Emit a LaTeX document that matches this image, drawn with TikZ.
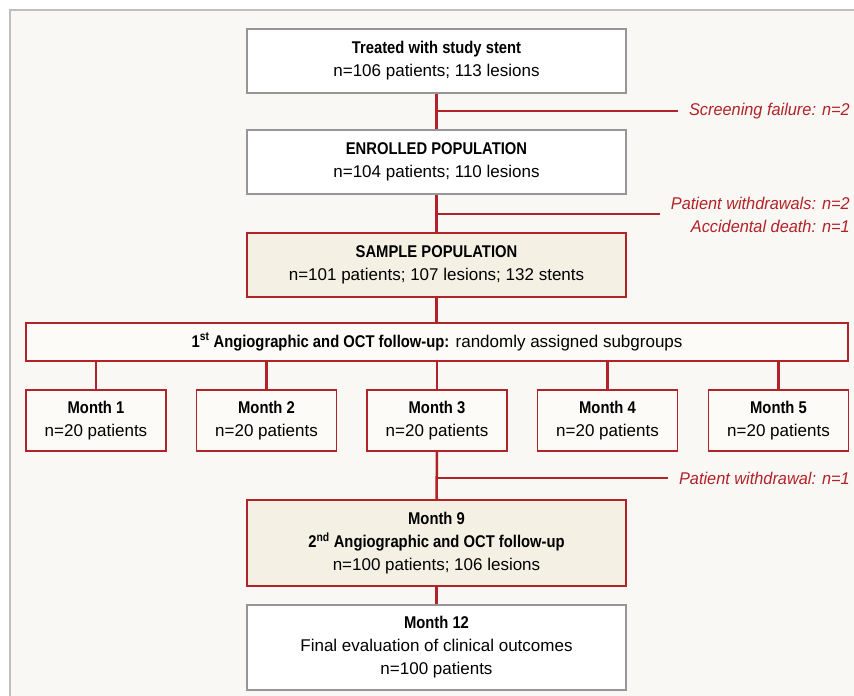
\documentclass[tikz,border=0pt]{standalone}
\usepackage{fontspec}
\setmainfont{Liberation Sans}[BoldFeatures={FakeStretch=0.87}, ItalicFeatures={FakeStretch=0.96}]
\definecolor{flowred}{RGB}{178,34,40}
\definecolor{boxgray}{RGB}{150,150,150}
\definecolor{panelgray}{RGB}{190,190,190}
\definecolor{panelfill}{RGB}{249,248,244}
\definecolor{cream}{RGB}{244,241,228}
\definecolor{pale}{RGB}{252,251,248}
\begin{document}
\begin{tikzpicture}[x=1pt, y=-1pt, font=\fontsize{17}{23}\selectfont,
			whitebox/.style = {draw=boxgray, fill=white, line width=1.5pt, minimum width=379, minimum height=64, align=center},
			creambox/.style = {draw=flowred, fill=cream, line width=1.5pt, minimum width=379, minimum height=64, align=center},
			monthbox/.style = {draw=flowred, fill=pale, line width=1.5pt, minimum width=140, minimum height=61, align=center},
			flow/.style = {draw=flowred, line width=2.5pt},
			droplabel/.style = {text=flowred, font=\fontsize{17}{23}\selectfont\itshape, anchor=east, inner sep=0pt, align=right}]
			
			\useasboundingbox (0,0) rectangle (854,696);
			\draw[draw=panelgray, fill=panelfill, line width=1.5pt] (10,10) rectangle (880,720);
			
			\node[whitebox] (treated) at (436.5,61) {\textbf{Treated with study stent}\\n=106 patients; 113 lesions};
			\node[whitebox] (enrolled) at (436.5,162) {\textbf{ENROLLED POPULATION}\\n=104 patients; 110 lesions};
			\node[creambox] (sample) at (436.5,265) {\textbf{SAMPLE POPULATION}\\n=101 patients; 107 lesions; 132 stents};
			\node[monthbox, minimum width=822, minimum height=38] (angio) at (437,342) {\textbf{1\textsuperscript{st} Angiographic and OCT follow-up:} randomly assigned subgroups};
			
			\node[monthbox] (m1) at (96,420.5) {\textbf{Month 1}\\n=20 patients};
			\node[monthbox] (m2) at (266.5,420.5) {\textbf{Month 2}\\n=20 patients};
			\node[monthbox] (m3) at (437,420.5) {\textbf{Month 3}\\n=20 patients};
			\node[monthbox] (m4) at (607.5,420.5) {\textbf{Month 4}\\n=20 patients};
			\node[monthbox] (m5) at (778.5,420.5) {\textbf{Month 5}\\n=20 patients};
			
			\node[creambox, minimum height=86] (m9) at (436.5,543) {\textbf{Month 9}\\\textbf{2\textsuperscript{nd} Angiographic and OCT follow-up}\\n=100 patients; 106 lesions};
			\node[whitebox, minimum height=85] (m12) at (436.5,647.5) {\textbf{Month 12}\\Final evaluation of clinical outcomes\\n=100 patients};
			
			% main flow
			\draw[flow] (treated.south) -- (enrolled.north);
			\draw[flow] (enrolled.south) -- (sample.north);
			\draw[flow] (sample.south) -- (sample.south |- angio.north);
			\foreach \m in {m1,m2,m3,m4,m5}
				\draw[flow] (angio.south -| \m) -- (\m.north);
			\draw[flow] (m3.south) -- (m9.north);
			\draw[flow] (m9.south) -- (m12.north);
			
			% exclusions
			\coordinate (x1a) at (436.5,111);
			\coordinate (x1b) at (678,111);
			\coordinate (x2a) at (436.5,214);
			\coordinate (x2b) at (660,214);
			\coordinate (x3a) at (437,478);
			\coordinate (x3b) at (668,478);
			\draw[flow] (x1a) -- (x1b);
			\draw[flow] (x2a) -- (x2b);
			\draw[flow] (x3a) -- (x3b);
			
			\node[droplabel] (fail) at (850,111) {Screening failure: n=2};
			\node[droplabel] (withdraw) at (850,214.5) {Patient withdrawals: n=2\\Accidental death: n=1};
			\node[droplabel] (withdraw9) at (850,478) {Patient withdrawal: n=1};
			
		\end{tikzpicture}
\end{document}
